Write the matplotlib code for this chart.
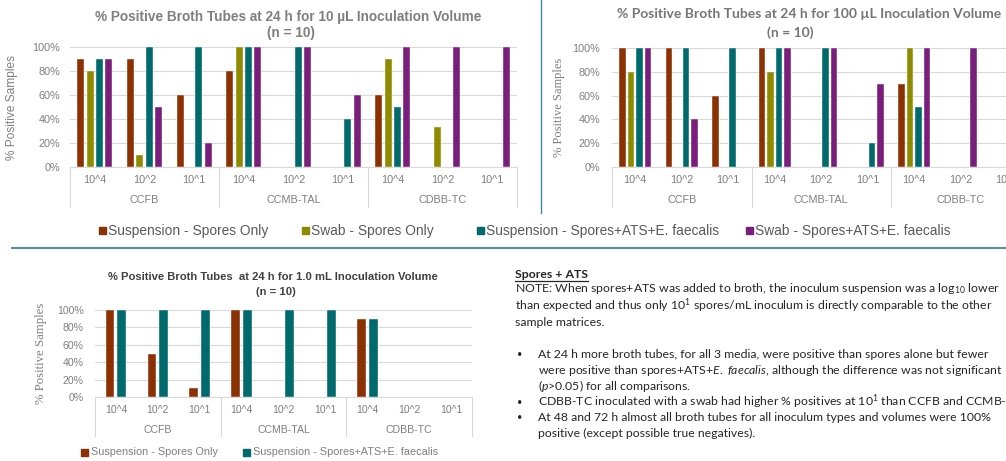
import numpy as np
import matplotlib
matplotlib.use('Agg')
import matplotlib.pyplot as plt
from matplotlib.patches import Rectangle
from matplotlib.lines import Line2D
from matplotlib.transforms import blended_transform_factory

plt.rcParams['mathtext.fontset'] = 'custom'
plt.rcParams['mathtext.rm'] = 'Lato'
plt.rcParams['mathtext.it'] = 'Lato:italic'
plt.rcParams['mathtext.bf'] = 'Lato:bold'

# ---- data ----
media = ['CCFB', 'CCMB-TAL', 'CDBB-TC']
doses = ['10^4', '10^2', '10^1']
series = ['Suspension - Spores Only', 'Swab - Spores Only',
          'Suspension - Spores+ATS+E. faecalis', 'Swab - Spores+ATS+E. faecalis']
colors = ['#8B3103', '#8E8B00', '#006A6D', '#7A1E7C']

# order within each list: CCFB 10^4,10^2,10^1 | CCMB-TAL ... | CDBB-TC ...
susp_10uL = [90, 90, 60, 80, 0, 0, 60, 0, 0]
swab_10uL = [80, 10, 0, 100, 0, 0, 90, 33, 0]
susp_ats_10uL = [90, 100, 100, 100, 100, 40, 50, 0, 0]
swab_ats_10uL = [90, 50, 20, 100, 100, 60, 100, 100, 100]

susp_100uL = [100, 100, 60, 100, 0, 0, 70, 0, 0]
swab_100uL = [80, 0, 0, 80, 0, 0, 100, 0, 0]
susp_ats_100uL = [100, 100, 100, 100, 100, 20, 50, 0, 0]
swab_ats_100uL = [100, 40, 0, 100, 100, 70, 100, 100, 100]

susp_1mL = [100, 50, 10, 100, 0, 0, 90, 0, 0]
susp_ats_1mL = [100, 100, 100, 100, 100, 100, 90, 0, 0]

W, H = 1006, 461
fig = plt.figure(figsize=(W / 100, H / 100), dpi=100)

ARIAL = 'Liberation Sans'
SERIF = 'Liberation Serif'
CAL = 'Lato'
GREY = '#7F7F7F'


def rect(x0, y0, x1, y1):
    return [x0 / W, 1 - y1 / H, (x1 - x0) / W, (y1 - y0) / H]


def fx(x):
    return x / W


def fy(y):
    return 1 - y / H


def panel(r, data, cols, width, step, tick_pad, tick_off, grp_off, sep_len,
          fs=7.8, ylab_font=ARIAL, ylab_fs=8.6, ylab_x=-0.116):
    ax = fig.add_axes(r)
    x = np.arange(len(media) * len(doses))
    n = len(data)
    for i, (vals, c) in enumerate(zip(data, cols)):
        ax.bar(x + (i - (n - 1) / 2) * step, vals, width, color=c,
               edgecolor='white', linewidth=0.3, zorder=3)
    ax.set_xlim(-0.5, len(x) - 0.5)
    ax.set_ylim(0, 100)
    ax.set_yticks(range(0, 101, 20))
    ax.set_yticklabels([f'{v}%' for v in range(0, 101, 20)],
                       fontfamily=ARIAL)
    ax.tick_params(axis='y', length=0, pad=tick_pad, labelsize=fs,
                   labelcolor=GREY)
    ax.set_xticks([])
    ax.grid(axis='y', color='#D9D9D9', linewidth=0.8, zorder=0)
    for s in ['left', 'right', 'top']:
        ax.spines[s].set_visible(False)
    ax.spines['bottom'].set_color('#D9D9D9')
    ax.set_ylabel('% Positive Samples', fontfamily=ylab_font,
                  fontsize=ylab_fs, color=GREY)
    ax.yaxis.set_label_coords(ylab_x, 0.5)

    # two-level category axis (dose / medium) with separators
    axh = r[3] * H
    tr = blended_transform_factory(ax.transData, ax.transAxes)
    k = 0
    for g, m in enumerate(media):
        for d in doses:
            ax.text(x[k], -tick_off / axh, d, transform=tr, ha='center',
                    va='center', fontsize=fs, color=GREY, fontfamily=ARIAL,
                    clip_on=False)
            k += 1
        xc = x[g * len(doses) + 1]
        ax.text(xc, -grp_off / axh, m, transform=tr, ha='center',
                va='center', fontsize=fs, color=GREY, fontfamily=ARIAL,
                clip_on=False)
    for b in np.arange(-0.5, len(x), len(doses)):
        ax.add_line(Line2D([b, b], [0, -sep_len / axh], transform=tr,
                           color='#D9D9D9', linewidth=0.8, clip_on=False))
    return ax


# ---- 10 µL ----
panel(rect(70, 47, 517, 167),
      [susp_10uL, swab_10uL, susp_ats_10uL, swab_ats_10uL], colors,
      width=0.14, step=0.187, tick_pad=7.2, tick_off=13, grp_off=33,
      sep_len=40, ylab_x=-0.116)
fig.text(fx(288), fy(17), '% Positive Broth Tubes at 24 h for 10 µL Inoculation Volume',
         ha='center', va='center', fontsize=9.8, fontweight='bold',
         color=GREY, fontfamily=ARIAL)
fig.text(fx(291), fy(33), '(n = 10)', ha='center', va='center',
         fontsize=9.8, fontweight='bold', color=GREY, fontfamily=ARIAL)

# ---- 100 µL ----
panel(rect(612, 48, 1030.5, 167),
      [susp_100uL, swab_100uL, susp_ats_100uL, swab_ats_100uL], colors,
      width=0.14, step=0.18, tick_pad=8.6, tick_off=13, grp_off=33,
      sep_len=40, ylab_font=SERIF, ylab_fs=9, ylab_x=-0.112)
fig.text(fx(809), fy(14), '% Positive Broth Tubes at 24 h for 100 µL Inoculation Volume',
         ha='center', va='center', fontsize=10, fontweight='bold',
         color='#767676', fontfamily=CAL)
fig.text(fx(790), fy(33), '(n = 10)', ha='center', va='center',
         fontsize=10, fontweight='bold', color='#767676', fontfamily=CAL)

# ---- 1.0 mL ----
panel(rect(95, 310, 472, 397), [susp_1mL, susp_ats_1mL],
      [colors[0], colors[2]], width=0.21, step=0.28, tick_pad=8,
      tick_off=13, grp_off=33, sep_len=39, fs=7.6, ylab_font=SERIF,
      ylab_fs=9.2, ylab_x=-0.127)
fig.text(fx(273), fy(277), '% Positive Broth Tubes  at 24 h for 1.0 mL Inoculation Volume',
         ha='center', va='center', fontsize=8.1, fontweight='bold',
         color='#404040', fontfamily=ARIAL)
fig.text(fx(276), fy(292), '(n = 10)', ha='center', va='center',
         fontsize=8.1, fontweight='bold', color='#404040', fontfamily=ARIAL)

# ---- legends ----
for lab, c, lx in zip(series, colors, [102.5, 305, 480, 749]):
    fig.patches.append(Rectangle((fx(lx - 3.5), fy(234.5)), 7 / W, 7 / H,
                                 transform=fig.transFigure, color=c))
    fig.text(fx(lx + 6), fy(231), lab, ha='left', va='center', fontsize=9.9,
             color='#595959', fontfamily=ARIAL)

for lab, c, lx in zip([series[0], series[2]], [colors[0], colors[2]], [84, 246]):
    fig.patches.append(Rectangle((fx(lx - 3.5), fy(455.5)), 7 / W, 7 / H,
                                 transform=fig.transFigure, color=c))
    fig.text(fx(lx + 7), fy(452), lab, ha='left', va='center', fontsize=7.8,
             color=GREY, fontfamily=ARIAL)

# ---- divider lines ----
fig.add_artist(Line2D([fx(541), fx(541)], [fy(0), fy(213)],
                      transform=fig.transFigure, color='#3E8AA3', linewidth=1))
fig.add_artist(Line2D([fx(12), fx(1006)], [fy(248), fy(248)],
                      transform=fig.transFigure, color='#2B7A8E', linewidth=1.2))

# ---- notes ----
TXT = '#262626'
nfs = 8.8
hdr = fig.text(fx(515), fy(274), 'Spores + ATS', ha='left', va='center',
               fontsize=nfs, fontweight='bold', color=TXT, fontfamily=CAL)
lines = [
    (515, 289, 'NOTE: When spores+ATS was added to broth, the inoculum suspension was a log$_{10}$ lower'),
    (515, 306, 'than expected and thus only 10$^{1}$ spores/mL inoculum is directly comparable to the other'),
    (515, 322, 'sample matrices.'),
    (538, 354, 'At 24 h more broth tubes, for all 3 media, were positive than spores alone but fewer'),
    (538, 370, 'were positive than spores+ATS+$\\mathit{E.}$ $\\mathit{faecalis}$, although the difference was not significant'),
    (538, 386, '($\\mathit{p}$>0.05) for all comparisons.'),
    (538, 402, 'CDBB-TC inoculated with a swab had higher % positives at 10$^{1}$ than CCFB and CCMB-TAL'),
    (538, 417, 'At 48 and 72 h almost all broth tubes for all inoculum types and volumes were 100%'),
    (538, 433, 'positive (except possible true negatives).'),
]
for lx, ly, s in lines:
    fig.text(fx(lx), fy(ly), s, ha='left', va='center', fontsize=nfs,
             color=TXT, fontfamily=CAL)
for by in [354, 402, 417]:
    fig.text(fx(517), fy(by), '•', ha='left', va='center', fontsize=6.5,
             color=TXT, fontfamily=CAL)

# underline for the heading
bb = hdr.get_window_extent(renderer=fig.canvas.get_renderer())
fig.add_artist(Line2D([bb.x0 / W, bb.x1 / W], [fy(280.5), fy(280.5)],
                      transform=fig.transFigure, color=TXT, linewidth=0.9))

fig.savefig('out.png', dpi=100)
